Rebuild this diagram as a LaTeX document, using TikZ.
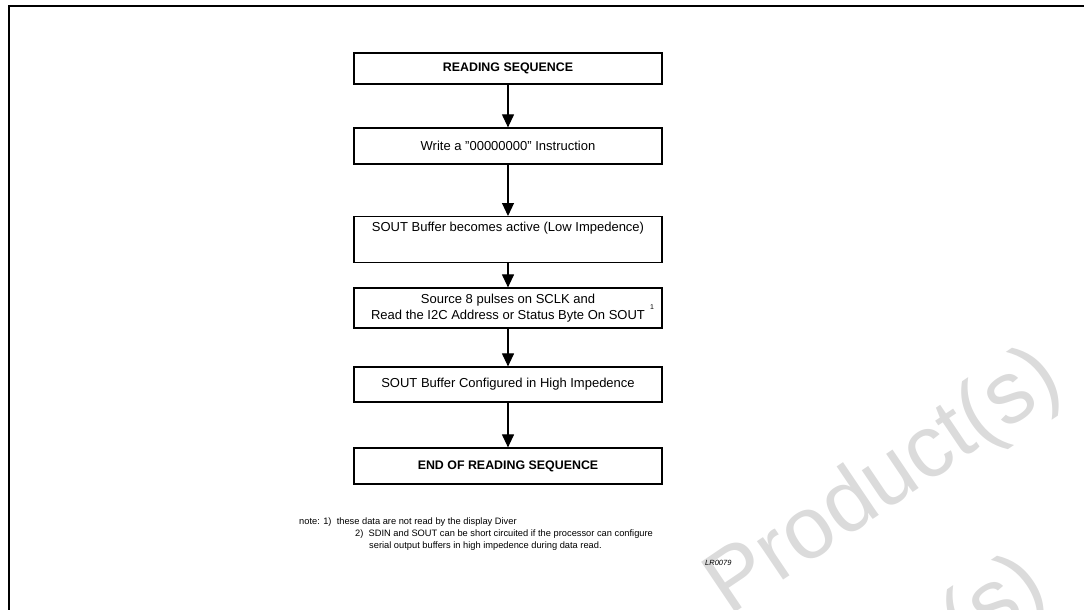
\documentclass[tikz,border=0pt]{standalone}
\usepackage{fontspec}
\setmainfont{Liberation Sans}
\usetikzlibrary{arrows.meta, positioning}

\begin{document}
\begin{tikzpicture}[x=1pt, y=-1pt,
    stepbox/.style={draw, line width=1.2pt, minimum width=308pt, inner xsep=4pt, inner ysep=0pt, align=center, font=\fontsize{13}{16}\selectfont},
    flow/.style={line width=1.1pt, -{Triangle[length=13pt, width=12pt]}},
    notetext/.style={anchor=base west, inner sep=0pt, font=\fontsize{9.3}{12}\selectfont},
    watermark/.style={text=black!14, font=\fontsize{88}{88}\selectfont, rotate=34}]
    \useasboundingbox (0,0) rectangle (1084,610);

    % Watermark
    \begin{scope}
        \clip (0,0) rectangle (1084,610);
        \node[watermark] (wmone) at (885,484) {Product(s)};
        \node[watermark] (wmtwo) at (870,692) {Product(s)};
    \end{scope}

    % Frame
    \draw[line width=2.2pt] (9,612) -- (9,6) -- (1086,6);

    % Sequence boxes
    \node[stepbox, minimum height=31pt, font=\fontsize{12.4}{16}\selectfont\bfseries] (start) at (508,68.5) {READING SEQUENCE};
    \node[stepbox, minimum height=36pt] (write) at (508,146) {Write a "00000000" Instruction};
    \node[stepbox, anchor=north, inner ysep=5.5pt, text height=9pt, text depth=26pt] (active) at (508,216) {SOUT Buffer becomes active (Low Impedence)};
    \node[stepbox, minimum height=40pt] (pulses) at (508,308) {Source 8 pulses on SCLK and\\Read the I2C Address or Status Byte On SOUT};
    \node[inner sep=0pt, font=\fontsize{7}{8}\selectfont] (footmark) at (652,307) {1};
    \node[stepbox, minimum height=35pt] (config) at (508,384.5) {SOUT Buffer Configured in High Impedence};
    \node[stepbox, minimum height=36pt, font=\fontsize{12.4}{16}\selectfont\bfseries] (finish) at (508,466) {END OF READING SEQUENCE};

    % Arrows
    \draw[flow] (start) -- (write);
    \draw[flow] (write) -- (active);
    \draw[flow] (active) -- (pulses);
    \draw[flow] (pulses) -- (config);
    \draw[flow] (config) -- (finish);

    % Notes
    \node[notetext] (noteone) at (299,524) {note: 1)\ \ these data are not read by the display Diver};
    \node[notetext] (notetwo) at (355,536) {2)\ \ SDIN and SOUT can be short circuited if the processor can configure};
    \node[notetext] (notethree) at (369,548) {serial output buffers in high impedence during data read.};
    \node[notetext, font=\fontsize{7.5}{9}\itshape] (label) at (705,565) {LR0079};
\end{tikzpicture}
\end{document}
